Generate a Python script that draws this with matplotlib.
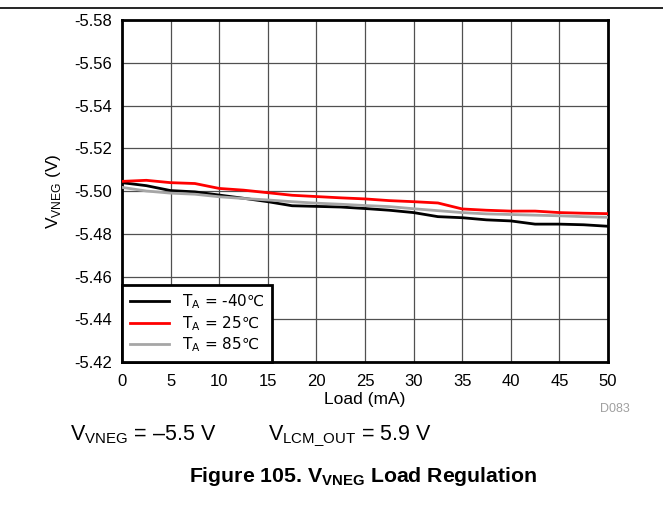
import matplotlib
matplotlib.use('Agg')
import matplotlib.pyplot as plt

plt.rcParams['font.family'] = ['Liberation Sans', 'DejaVu Sans']
plt.rcParams['mathtext.fontset'] = 'custom'
plt.rcParams['mathtext.rm'] = 'Liberation Sans'
plt.rcParams['mathtext.bf'] = 'Liberation Sans:bold'

# ── Data ──────────────────────────────────────────────────────────────────────
load_ma = [0, 2.5, 5, 7.5, 10, 12.5, 15, 17.5, 20, 22.5, 25,
           27.5, 30, 32.5, 35, 37.5, 40, 42.5, 45, 47.5, 50]

v_m40 = [-5.5039, -5.5025, -5.5002, -5.4996, -5.4981, -5.4966, -5.4950,
         -5.4931, -5.4928, -5.4925, -5.4918, -5.4910, -5.4899, -5.4880,
         -5.4875, -5.4865, -5.4860, -5.4845, -5.4845, -5.4842, -5.4835]
v_25 = [-5.5045, -5.5050, -5.5039, -5.5035, -5.5012, -5.5004, -5.4992,
        -5.4980, -5.4974, -5.4968, -5.4963, -5.4955, -5.4950, -5.4944,
        -5.4916, -5.4910, -5.4906, -5.4906, -5.4899, -5.4896, -5.4894]
v_85 = [-5.5017, -5.5000, -5.4990, -5.4985, -5.4973, -5.4965, -5.4958,
        -5.4950, -5.4943, -5.4938, -5.4932, -5.4927, -5.4917, -5.4908,
        -5.4899, -5.4893, -5.4890, -5.4887, -5.4884, -5.4880, -5.4877]

x_ticks = [0, 5, 10, 15, 20, 25, 30, 35, 40, 45, 50]
y_ticks = [-5.58, -5.56, -5.54, -5.52, -5.50, -5.48, -5.46, -5.44, -5.42]

series = [
    (v_m40, 'black',   r'T$_\mathregular{A}$ = -40℃'),
    (v_25,  '#ff0000', r'T$_\mathregular{A}$ = 25℃'),
    (v_85,  '#a6a6a6', r'T$_\mathregular{A}$ = 85℃'),
]

# ── Figure ────────────────────────────────────────────────────────────────────
fig = plt.figure(figsize=(6.63, 5.05), dpi=100)
ax = fig.add_axes([122 / 663, 1 - 362 / 505, 486 / 663, 342 / 505])

for vals, color, label in series:
    ax.plot(load_ma, vals, color=color, lw=2, label=label, zorder=3)

ax.set_xlim(0, 50)
ax.set_ylim(-5.58, -5.42)
ax.invert_yaxis()
ax.set_xticks(x_ticks)
ax.set_yticks(y_ticks)
ax.set_yticklabels([f'{v:.2f}' for v in y_ticks])
ax.tick_params(length=0, labelsize=12)
ax.tick_params(axis='x', pad=9)
ax.tick_params(axis='y', pad=7)
ax.grid(True, color='#505050', lw=0.9)
ax.set_axisbelow(True)
for sp in ax.spines.values():
    sp.set_linewidth(2)

ax.set_xlabel('Load (mA)', fontsize=12.5, labelpad=2)
ax.set_ylabel(r'V$_\mathregular{VNEG}$ (V)', fontsize=12.5, labelpad=8)

leg = ax.legend(loc='lower left', borderaxespad=0, fontsize=11,
                handlelength=2.6, fancybox=False, framealpha=1,
                edgecolor='black', labelspacing=0.2, borderpad=0.5)
leg.get_frame().set_linewidth(2)
# Liberation Sans has no ℃ glyph, so the legend labels use DejaVu Sans
for t in leg.get_texts():
    t.set_fontfamily('DejaVu Sans')

# ── Annotations around the plot ───────────────────────────────────────────────
fig.text(600 / 663, 1 - 409 / 505, 'D083', fontsize=9, color='#a0a0a0',
         ha='left', va='center')
fig.text(70 / 663, 1 - 440 / 505, r'V$_\mathregular{VNEG}$ = –5.5 V',
         fontsize=15.5, ha='left', va='baseline')
fig.text(268 / 663, 1 - 440 / 505, r'V$_\mathregular{LCM\_OUT}$ = 5.9 V',
         fontsize=15.5, ha='left', va='baseline')
fig.text(363 / 663, 1 - 482 / 505,
         r'Figure 105. V$_\mathbf{VNEG}$ Load Regulation',
         fontsize=15.3, fontweight='bold', ha='center', va='baseline')

# rule at the very top of the cropped page
fig.add_artist(plt.Line2D([0, 1], [1 - 7.5 / 505, 1 - 7.5 / 505],
                          color='black', lw=1.2))

fig.savefig('out.png', dpi=100)
